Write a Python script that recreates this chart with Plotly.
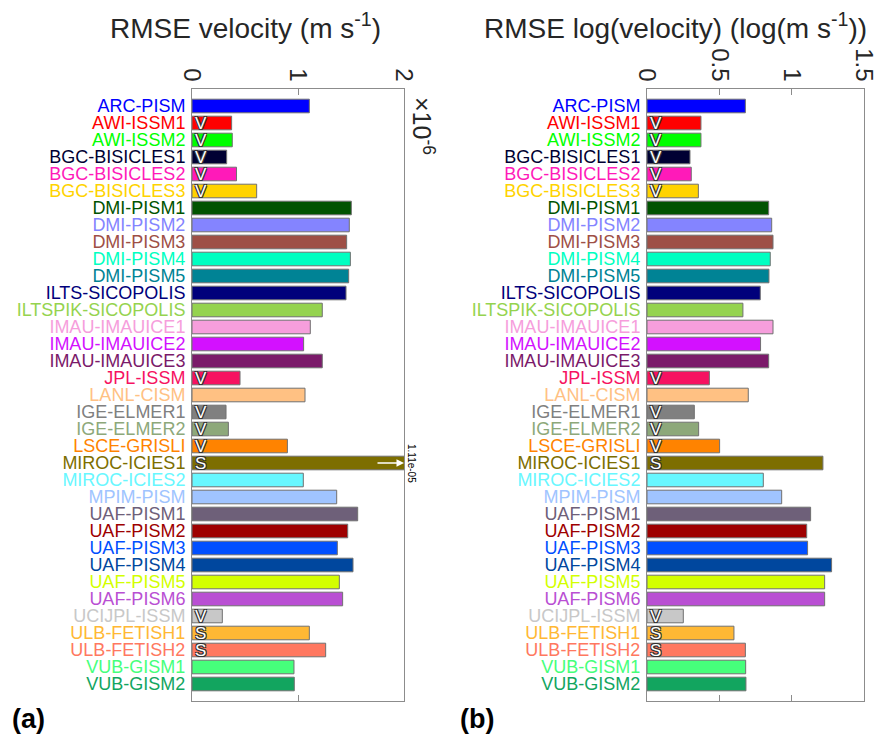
import plotly.graph_objects as go

models = ["ARC-PISM", "AWI-ISSM1", "AWI-ISSM2", "BGC-BISICLES1", "BGC-BISICLES2", "BGC-BISICLES3",
          "DMI-PISM1", "DMI-PISM2", "DMI-PISM3", "DMI-PISM4", "DMI-PISM5", "ILTS-SICOPOLIS",
          "ILTSPIK-SICOPOLIS", "IMAU-IMAUICE1", "IMAU-IMAUICE2", "IMAU-IMAUICE3", "JPL-ISSM",
          "LANL-CISM", "IGE-ELMER1", "IGE-ELMER2", "LSCE-GRISLI", "MIROC-ICIES1", "MIROC-ICIES2",
          "MPIM-PISM", "UAF-PISM1", "UAF-PISM2", "UAF-PISM3", "UAF-PISM4", "UAF-PISM5", "UAF-PISM6",
          "UCIJPL-ISSM", "ULB-FETISH1", "ULB-FETISH2", "VUB-GISM1", "VUB-GISM2"]

colors = ["#0000FF", "#FF0000", "#00FF00", "#000033", "#FF1AB9", "#FFD300",
          "#005300", "#8484FF", "#9E4F46", "#00FFC1", "#008395", "#00007B",
          "#95D34F", "#F69EDC", "#D311FF", "#7B1A6A", "#F61261",
          "#FFC183", "#808080", "#8DA87A", "#FF8300", "#7D6E00", "#68F7FF",
          "#A0C4FF", "#6E6079", "#9E0000", "#004FFF", "#00479E", "#D3FF00", "#B94FD3",
          "#C8C8C8", "#FFB834", "#FF7860", "#46FF7B", "#12A55F"]

# RMSE velocity in units of 1e-6 m s^-1
rmse_vel_1e6 = [1.107, 0.374, 0.380, 0.327, 0.420, 0.610,
                1.503, 1.484, 1.459, 1.494, 1.478, 1.453,
                1.229, 1.116, 1.053, 1.229, 0.453,
                1.066, 0.321, 0.343, 0.900, 11.1, 1.050,
                1.365, 1.563, 1.469, 1.371, 1.519, 1.390, 1.421,
                0.286, 1.107, 1.261, 0.962, 0.965]

rmse_logvel = [0.680, 0.373, 0.373, 0.297, 0.306, 0.355,
               0.841, 0.862, 0.871, 0.852, 0.843, 0.783,
               0.663, 0.871, 0.785, 0.841, 0.431,
               0.700, 0.327, 0.357, 0.502, 1.216, 0.804,
               0.931, 1.131, 1.104, 1.110, 1.276, 1.228, 1.228,
               0.251, 0.601, 0.680, 0.682, 0.684]

flags = ["", "V", "V", "V", "V", "V",
         "", "", "", "", "", "",
         "", "", "", "", "V",
         "", "V", "V", "V", "S", "",
         "", "", "", "", "", "", "",
         "V", "S", "S", "", ""]

xticks_a = [0, 1, 2]
xticks_b = [0, 0.5, 1, 1.5]

W, H = 875, 736
FONT = "Liberation Sans, Arial, sans-serif"
TXT = "#262626"
AX = "#8c8c8c"

ticktext = [f'<span style="color:{c}">{m}</span>' for m, c in zip(models, colors)]
n = len(models)

shadow = "-1px -1px 0 #333, 1px -1px 0 #333, -1px 1px 0 #333, 1px 1px 0 #333"

fig = go.Figure()
for vals, xa, ya in [(rmse_vel_1e6, "x", "y"), (rmse_logvel, "x2", "y2")]:
    fig.add_trace(go.Bar(
        x=vals, y=models, orientation="h", xaxis=xa, yaxis=ya,
        marker=dict(color=colors, line=dict(color="#707070", width=1)),
        width=0.8, text=flags, textposition="inside", insidetextanchor="start",
        constraintext="none", textangle=0, cliponaxis=True,
        textfont=dict(color="white", size=17, family=FONT, shadow=shadow),
        showlegend=False, hoverinfo="x+y",
    ))

def px_x(p):
    return p / W

def px_y(p):
    return 1 - p / H

ydom = [px_y(701), px_y(89)]
common_x = dict(side="top", showline=True, linecolor=AX, linewidth=1, mirror="ticks",
                ticks="inside", ticklen=6, tickcolor=AX, tickangle=90, automargin=False,
                ticklabeloverflow="allow", ticklabelstandoff=-2,
                tickfont=dict(size=24, color=TXT, family=FONT), showgrid=False, zeroline=False)
common_y = dict(type="category", categoryorder="array", categoryarray=models,
                range=[n, -1], tickmode="array", tickvals=models, ticktext=ticktext,
                showline=True, linecolor=AX, linewidth=1, mirror=True, ticks="",
                automargin=False, ticklabelstandoff=2,
                tickfont=dict(size=18, family=FONT), showgrid=False, zeroline=False,
                domain=ydom)
over_y = dict(type="linear", range=[n, -1], side="right", ticks="inside", ticklen=6,
              tickcolor=AX, tickvals=list(range(n)), showticklabels=False, automargin=False,
              showline=False, showgrid=False, zeroline=False, domain=ydom)

fig.update_layout(
    width=W, height=H, margin=dict(l=0, r=0, t=0, b=0, autoexpand=False),
    paper_bgcolor="white", plot_bgcolor="white", bargap=0.2,
    font=dict(family=FONT, color=TXT),
    xaxis=dict(domain=[px_x(192), px_x(404)], range=[0, 2], tickvals=xticks_a,
               ticktext=[str(t) for t in xticks_a], anchor="y", **common_x),
    xaxis2=dict(domain=[px_x(647), px_x(864)], range=[0, 1.5], tickvals=xticks_b,
                ticktext=[f"{t:g}" for t in xticks_b], anchor="y2", **common_x),
    yaxis=dict(anchor="x", **common_y),
    yaxis2=dict(anchor="x2", **common_y),
    yaxis3=dict(anchor="x", overlaying="y", **over_y),
    yaxis4=dict(anchor="x2", overlaying="y2", **over_y),
)

annotations = [
    dict(text="RMSE velocity (m s<sup>-1</sup>)", x=px_x(245), y=px_y(26), xref="paper", yref="paper",
         showarrow=False, font=dict(size=28, color=TXT, family=FONT), xanchor="center", yanchor="middle"),
    dict(text="RMSE log(velocity) (log(m s<sup>-1</sup>))", x=px_x(675), y=px_y(26), xref="paper",
         yref="paper", showarrow=False, font=dict(size=28, color=TXT, family=FONT),
         xanchor="center", yanchor="middle"),
    dict(text="×10<sup>-6</sup>", x=px_x(423), y=px_y(126), xref="paper", yref="paper",
         showarrow=False, textangle=90, font=dict(size=25, color=TXT, family=FONT),
         xanchor="center", yanchor="middle"),
    dict(text="<b>(a)</b>", x=px_x(29), y=px_y(719), xref="paper", yref="paper", showarrow=False,
         font=dict(size=27, color="black", family=FONT), xanchor="center", yanchor="middle"),
    dict(text="<b>(b)</b>", x=px_x(477), y=px_y(719), xref="paper", yref="paper", showarrow=False,
         font=dict(size=27, color="black", family=FONT), xanchor="center", yanchor="middle"),
]

# off-scale bar: arrow and value label
xmax_a = xticks_a[-1]
for m, v in zip(models, rmse_vel_1e6):
    if v > xmax_a:
        annotations.append(dict(x=xmax_a, y=m, xref="x", yref="y", text="", showarrow=True,
                                arrowhead=2, arrowsize=1, arrowwidth=1.5, arrowcolor="white",
                                ax=-28, ay=0))
        annotations.append(dict(x=px_x(412), y=m, xref="paper", yref="y", text=f"{v*1e-6:.2e}",
                                showarrow=False, textangle=90,
                                font=dict(size=10, color="black", family=FONT),
                                xanchor="center", yanchor="middle"))
fig.update_layout(annotations=annotations)

fig.write_html("out.html", config={"displayModeBar": False},
               post_script="document.body.style.margin='0';document.body.style.overflow='hidden';")
